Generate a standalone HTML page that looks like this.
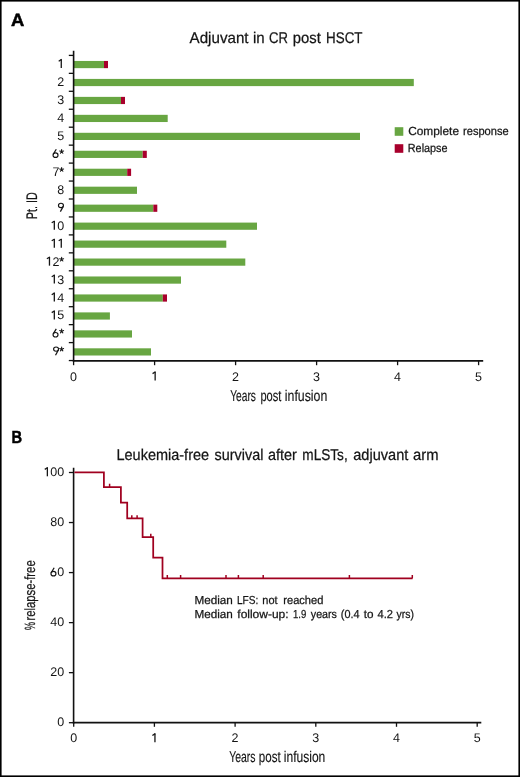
<!DOCTYPE html>
<html><head><meta charset="utf-8"><style>
html,body{margin:0;padding:0;background:#fff;}
svg{display:block;will-change:transform;text-rendering:geometricPrecision;font-family:"Liberation Sans", sans-serif;}
</style></head><body>
<svg width="520" height="777" viewBox="0 0 520 777">
<rect x="0" y="0" width="520" height="777" fill="#fff"/>
<rect x="0.8" y="0.8" width="518.4" height="775.4" fill="none" stroke="#000" stroke-width="1.6"/>
<text x="10.9" y="25.7" font-size="17.8" font-weight="bold" textLength="13.3" lengthAdjust="spacingAndGlyphs" stroke="#000" stroke-width="0.5" fill="#000">A</text>
<text x="11.6" y="442.7" font-size="17.5" font-weight="bold" textLength="10.6" lengthAdjust="spacingAndGlyphs" stroke="#000" stroke-width="0.5" fill="#000">B</text>
<text x="189.60" y="42.60" font-size="15.5" textLength="58.93" lengthAdjust="spacingAndGlyphs" fill="#151515" stroke="#151515" stroke-width="0.25">Adjuvant</text>
<text x="252.90" y="42.60" font-size="15.5" textLength="11.72" lengthAdjust="spacingAndGlyphs" fill="#151515" stroke="#151515" stroke-width="0.25">in</text>
<text x="269.00" y="42.60" font-size="15.5" textLength="18.91" lengthAdjust="spacingAndGlyphs" fill="#151515" stroke="#151515" stroke-width="0.25">CR</text>
<text x="292.80" y="42.60" font-size="15.5" textLength="27.96" lengthAdjust="spacingAndGlyphs" fill="#151515" stroke="#151515" stroke-width="0.25">post</text>
<text x="326.10" y="42.60" font-size="15.5" textLength="36.44" lengthAdjust="spacingAndGlyphs" fill="#151515" stroke="#151515" stroke-width="0.25">HSCT</text>
<text x="116.50" y="459.60" font-size="15.6" textLength="92.58" lengthAdjust="spacingAndGlyphs" fill="#151515" stroke="#151515" stroke-width="0.25">Leukemia-free</text>
<text x="214.60" y="459.60" font-size="15.6" textLength="48.78" lengthAdjust="spacingAndGlyphs" fill="#151515" stroke="#151515" stroke-width="0.25">survival</text>
<text x="268.00" y="459.60" font-size="15.6" textLength="28.85" lengthAdjust="spacingAndGlyphs" fill="#151515" stroke="#151515" stroke-width="0.25">after</text>
<text x="302.30" y="459.60" font-size="15.6" textLength="45.41" lengthAdjust="spacingAndGlyphs" fill="#151515" stroke="#151515" stroke-width="0.25">mLSTs,</text>
<text x="353.20" y="459.60" font-size="15.6" textLength="55.12" lengthAdjust="spacingAndGlyphs" fill="#151515" stroke="#151515" stroke-width="0.25">adjuvant</text>
<text x="413.05" y="459.60" font-size="15.6" textLength="25.49" lengthAdjust="spacingAndGlyphs" fill="#151515" stroke="#151515" stroke-width="0.25">arm</text>
<text x="408.20" y="135.30" font-size="11.8" textLength="50.84" lengthAdjust="spacingAndGlyphs" fill="#151515" stroke="#151515" stroke-width="0.25">Complete</text>
<text x="463.00" y="135.30" font-size="11.8" textLength="45.70" lengthAdjust="spacingAndGlyphs" fill="#151515" stroke="#151515" stroke-width="0.25">response</text>
<text x="407.78" y="151.80" font-size="11.8" textLength="39.80" lengthAdjust="spacingAndGlyphs" fill="#151515" stroke="#151515" stroke-width="0.25">Relapse</text>
<text x="194.40" y="604.30" font-size="11.6" textLength="38.46" lengthAdjust="spacingAndGlyphs" fill="#151515" stroke="#151515" stroke-width="0.25">Median</text>
<text x="237.00" y="604.30" font-size="11.6" textLength="21.31" lengthAdjust="spacingAndGlyphs" fill="#151515" stroke="#151515" stroke-width="0.25">LFS:</text>
<text x="262.30" y="604.30" font-size="11.6" textLength="15.24" lengthAdjust="spacingAndGlyphs" fill="#151515" stroke="#151515" stroke-width="0.25">not</text>
<text x="283.30" y="604.30" font-size="11.6" textLength="40.09" lengthAdjust="spacingAndGlyphs" fill="#151515" stroke="#151515" stroke-width="0.25">reached</text>
<text x="194.40" y="618.20" font-size="11.6" textLength="38.46" lengthAdjust="spacingAndGlyphs" fill="#151515" stroke="#151515" stroke-width="0.25">Median</text>
<text x="237.30" y="618.20" font-size="11.6" textLength="51.32" lengthAdjust="spacingAndGlyphs" fill="#151515" stroke="#151515" stroke-width="0.25">follow-up:</text>
<text x="293.00" y="618.20" font-size="11.6" textLength="13.29" lengthAdjust="spacingAndGlyphs" fill="#151515" stroke="#151515" stroke-width="0.25">1.9</text>
<text x="310.80" y="618.20" font-size="11.6" textLength="26.16" lengthAdjust="spacingAndGlyphs" fill="#151515" stroke="#151515" stroke-width="0.25">years</text>
<text x="340.80" y="618.20" font-size="11.6" textLength="18.70" lengthAdjust="spacingAndGlyphs" fill="#151515" stroke="#151515" stroke-width="0.25">(0.4</text>
<text x="363.80" y="618.20" font-size="11.6" textLength="9.75" lengthAdjust="spacingAndGlyphs" fill="#151515" stroke="#151515" stroke-width="0.25">to</text>
<text x="377.50" y="618.20" font-size="11.6" textLength="15.52" lengthAdjust="spacingAndGlyphs" fill="#151515" stroke="#151515" stroke-width="0.25">4.2</text>
<text x="396.50" y="618.20" font-size="11.6" textLength="17.43" lengthAdjust="spacingAndGlyphs" fill="#151515" stroke="#151515" stroke-width="0.25">yrs)</text>
<text x="230.20" y="400.90" font-size="15.5" textLength="25.74" lengthAdjust="spacingAndGlyphs" fill="#151515" stroke="#151515" stroke-width="0.15">Years</text>
<text x="260.40" y="400.90" font-size="15.5" textLength="20.97" lengthAdjust="spacingAndGlyphs" fill="#151515" stroke="#151515" stroke-width="0.15">post</text>
<text x="284.80" y="400.90" font-size="15.5" textLength="42.55" lengthAdjust="spacingAndGlyphs" fill="#151515" stroke="#151515" stroke-width="0.15">infusion</text>
<text x="229.20" y="762.40" font-size="15.5" textLength="26.37" lengthAdjust="spacingAndGlyphs" fill="#151515" stroke="#151515" stroke-width="0.15">Years</text>
<text x="258.80" y="762.40" font-size="15.5" textLength="21.88" lengthAdjust="spacingAndGlyphs" fill="#151515" stroke="#151515" stroke-width="0.15">post</text>
<text x="283.80" y="762.40" font-size="15.5" textLength="41.53" lengthAdjust="spacingAndGlyphs" fill="#151515" stroke="#151515" stroke-width="0.15">infusion</text>
<text transform="translate(36.90 219.14) rotate(-90)" x="0" y="0" font-size="15.3" textLength="26.90" lengthAdjust="spacingAndGlyphs" fill="#151515" stroke="#151515" stroke-width="0.25">Pt. ID</text>
<text transform="translate(35.10 630.02) rotate(-90)" x="0" y="0" font-size="14.8" textLength="8.02" lengthAdjust="spacingAndGlyphs" fill="#151515" stroke="#151515" stroke-width="0.25">%</text>
<text transform="translate(35.10 620.60) rotate(-90)" x="0" y="0" font-size="14.8" textLength="60.30" lengthAdjust="spacingAndGlyphs" fill="#151515" stroke="#151515" stroke-width="0.25">relapse-free</text>
<rect x="73.6" y="60.95" width="30.40" height="7.2" fill="#68a642"/>
<rect x="104.0" y="60.95" width="4.00" height="7.2" fill="#a8002c"/>
<path d="M61.27,68.10 V59.30" stroke="#151515" stroke-width="1.30" fill="none"/>
<path d="M61.65,59.39 L58.69,61.20" stroke="#151515" stroke-width="1.25" fill="none"/>
<rect x="73.6" y="78.91" width="340.20" height="7.2" fill="#68a642"/>
<text x="57.25" y="86.01" font-size="12.5" fill="#151515">2</text>
<rect x="73.6" y="96.87" width="47.40" height="7.2" fill="#68a642"/>
<rect x="121.0" y="96.87" width="4.00" height="7.2" fill="#a8002c"/>
<text x="57.25" y="103.97" font-size="12.5" fill="#151515">3</text>
<rect x="73.6" y="114.83" width="94.10" height="7.2" fill="#68a642"/>
<text x="57.25" y="121.93" font-size="12.5" fill="#151515">4</text>
<rect x="73.6" y="132.79" width="286.40" height="7.2" fill="#68a642"/>
<text x="57.25" y="139.89" font-size="12.5" fill="#151515">5</text>
<rect x="73.6" y="150.75" width="69.10" height="7.2" fill="#68a642"/>
<rect x="142.7" y="150.75" width="4.10" height="7.2" fill="#a8002c"/>
<ellipse cx="55.53" cy="155.16" rx="2.48" ry="2.25" stroke="#151515" stroke-width="1.15" fill="none"/>
<path d="M53.26,154.22 L56.26,149.22" stroke="#151515" stroke-width="1.25" fill="none"/>
<path d="M61.65,151.60 L61.65,149.54 M61.65,151.60 L63.61,150.96 M61.65,151.60 L62.86,153.27 M61.65,151.60 L60.44,153.27 M61.65,151.60 L59.69,150.96 " stroke="#151515" stroke-width="1.06" stroke-linecap="round" fill="none"/>
<rect x="73.6" y="168.71" width="53.60" height="7.2" fill="#68a642"/>
<rect x="127.2" y="168.71" width="3.90" height="7.2" fill="#a8002c"/>
<text x="52.38" y="175.81" font-size="12.5" fill="#151515">7</text>
<path d="M61.65,169.56 L61.65,167.50 M61.65,169.56 L63.61,168.92 M61.65,169.56 L62.86,171.23 M61.65,169.56 L60.44,171.23 M61.65,169.56 L59.69,168.92 " stroke="#151515" stroke-width="1.06" stroke-linecap="round" fill="none"/>
<rect x="73.6" y="186.67" width="63.40" height="7.2" fill="#68a642"/>
<text x="57.25" y="193.77" font-size="12.5" fill="#151515">8</text>
<rect x="73.6" y="204.63" width="79.70" height="7.2" fill="#68a642"/>
<rect x="153.3" y="204.63" width="4.00" height="7.2" fill="#a8002c"/>
<ellipse cx="60.95" cy="205.42" rx="2.48" ry="2.15" stroke="#151515" stroke-width="1.15" fill="none"/>
<path d="M63.22,206.35 L60.37,211.58" stroke="#151515" stroke-width="1.25" fill="none"/>
<rect x="73.6" y="222.59" width="183.40" height="7.2" fill="#68a642"/>
<path d="M54.32,229.74 V220.94" stroke="#151515" stroke-width="1.30" fill="none"/>
<path d="M54.70,221.03 L51.73,222.84" stroke="#151515" stroke-width="1.25" fill="none"/>
<text x="57.25" y="229.69" font-size="12.5" fill="#151515">0</text>
<rect x="73.6" y="240.55" width="152.70" height="7.2" fill="#68a642"/>
<path d="M54.32,247.70 V238.90" stroke="#151515" stroke-width="1.30" fill="none"/>
<path d="M54.70,238.99 L51.73,240.80" stroke="#151515" stroke-width="1.25" fill="none"/>
<path d="M61.27,247.70 V238.90" stroke="#151515" stroke-width="1.30" fill="none"/>
<path d="M61.65,238.99 L58.69,240.80" stroke="#151515" stroke-width="1.25" fill="none"/>
<rect x="73.6" y="258.51" width="171.70" height="7.2" fill="#68a642"/>
<path d="M49.46,265.66 V256.86" stroke="#151515" stroke-width="1.30" fill="none"/>
<path d="M49.83,256.95 L46.87,258.76" stroke="#151515" stroke-width="1.25" fill="none"/>
<text x="52.38" y="265.61" font-size="12.5" fill="#151515">2</text>
<path d="M61.65,259.36 L61.65,257.30 M61.65,259.36 L63.61,258.72 M61.65,259.36 L62.86,261.03 M61.65,259.36 L60.44,261.03 M61.65,259.36 L59.69,258.72 " stroke="#151515" stroke-width="1.06" stroke-linecap="round" fill="none"/>
<rect x="73.6" y="276.47" width="107.40" height="7.2" fill="#68a642"/>
<path d="M54.32,283.62 V274.82" stroke="#151515" stroke-width="1.30" fill="none"/>
<path d="M54.70,274.91 L51.73,276.72" stroke="#151515" stroke-width="1.25" fill="none"/>
<text x="57.25" y="283.57" font-size="12.5" fill="#151515">3</text>
<rect x="73.6" y="294.43" width="89.20" height="7.2" fill="#68a642"/>
<rect x="162.8" y="294.43" width="4.20" height="7.2" fill="#a8002c"/>
<path d="M54.32,301.58 V292.78" stroke="#151515" stroke-width="1.30" fill="none"/>
<path d="M54.70,292.87 L51.73,294.68" stroke="#151515" stroke-width="1.25" fill="none"/>
<text x="57.25" y="301.53" font-size="12.5" fill="#151515">4</text>
<rect x="73.6" y="312.39" width="36.30" height="7.2" fill="#68a642"/>
<path d="M54.32,319.54 V310.74" stroke="#151515" stroke-width="1.30" fill="none"/>
<path d="M54.70,310.83 L51.73,312.64" stroke="#151515" stroke-width="1.25" fill="none"/>
<text x="57.25" y="319.49" font-size="12.5" fill="#151515">5</text>
<rect x="73.6" y="330.35" width="58.40" height="7.2" fill="#68a642"/>
<ellipse cx="55.53" cy="334.76" rx="2.48" ry="2.25" stroke="#151515" stroke-width="1.15" fill="none"/>
<path d="M53.26,333.83 L56.26,328.83" stroke="#151515" stroke-width="1.25" fill="none"/>
<path d="M61.65,331.20 L61.65,329.14 M61.65,331.20 L63.61,330.56 M61.65,331.20 L62.86,332.87 M61.65,331.20 L60.44,332.87 M61.65,331.20 L59.69,330.56 " stroke="#151515" stroke-width="1.06" stroke-linecap="round" fill="none"/>
<rect x="73.6" y="348.31" width="77.40" height="7.2" fill="#68a642"/>
<ellipse cx="56.08" cy="349.10" rx="2.48" ry="2.15" stroke="#151515" stroke-width="1.15" fill="none"/>
<path d="M58.36,350.04 L55.51,355.26" stroke="#151515" stroke-width="1.25" fill="none"/>
<path d="M61.65,349.16 L61.65,347.10 M61.65,349.16 L63.61,348.52 M61.65,349.16 L62.86,350.83 M61.65,349.16 L60.44,350.83 M61.65,349.16 L59.69,348.52 " stroke="#151515" stroke-width="1.06" stroke-linecap="round" fill="none"/>
<line x1="73.6" y1="50.8" x2="73.6" y2="361.6" stroke="#111" stroke-width="1.6"/>
<line x1="68.8" y1="55.40" x2="73.6" y2="55.40" stroke="#111" stroke-width="1.3"/>
<line x1="68.8" y1="73.35" x2="73.6" y2="73.35" stroke="#111" stroke-width="1.3"/>
<line x1="68.8" y1="91.30" x2="73.6" y2="91.30" stroke="#111" stroke-width="1.3"/>
<line x1="68.8" y1="109.25" x2="73.6" y2="109.25" stroke="#111" stroke-width="1.3"/>
<line x1="68.8" y1="127.20" x2="73.6" y2="127.20" stroke="#111" stroke-width="1.3"/>
<line x1="68.8" y1="145.15" x2="73.6" y2="145.15" stroke="#111" stroke-width="1.3"/>
<line x1="68.8" y1="163.10" x2="73.6" y2="163.10" stroke="#111" stroke-width="1.3"/>
<line x1="68.8" y1="181.05" x2="73.6" y2="181.05" stroke="#111" stroke-width="1.3"/>
<line x1="68.8" y1="199.00" x2="73.6" y2="199.00" stroke="#111" stroke-width="1.3"/>
<line x1="68.8" y1="216.95" x2="73.6" y2="216.95" stroke="#111" stroke-width="1.3"/>
<line x1="68.8" y1="234.90" x2="73.6" y2="234.90" stroke="#111" stroke-width="1.3"/>
<line x1="68.8" y1="252.85" x2="73.6" y2="252.85" stroke="#111" stroke-width="1.3"/>
<line x1="68.8" y1="270.80" x2="73.6" y2="270.80" stroke="#111" stroke-width="1.3"/>
<line x1="68.8" y1="288.75" x2="73.6" y2="288.75" stroke="#111" stroke-width="1.3"/>
<line x1="68.8" y1="306.70" x2="73.6" y2="306.70" stroke="#111" stroke-width="1.3"/>
<line x1="68.8" y1="324.65" x2="73.6" y2="324.65" stroke="#111" stroke-width="1.3"/>
<line x1="68.8" y1="342.60" x2="73.6" y2="342.60" stroke="#111" stroke-width="1.3"/>
<line x1="68.8" y1="360.55" x2="73.6" y2="360.55" stroke="#111" stroke-width="1.3"/>
<line x1="72.8" y1="360.8" x2="483.2" y2="360.8" stroke="#111" stroke-width="1.7"/>
<line x1="73.60" y1="360.8" x2="73.60" y2="365.2" stroke="#111" stroke-width="1.3"/>
<text x="70.12" y="380.50" font-size="12.5" fill="#151515">0</text>
<line x1="154.60" y1="360.8" x2="154.60" y2="365.2" stroke="#111" stroke-width="1.3"/>
<path d="M155.15,380.55 V371.75" stroke="#151515" stroke-width="1.30" fill="none"/>
<path d="M155.52,371.84 L152.56,373.65" stroke="#151515" stroke-width="1.25" fill="none"/>
<line x1="235.60" y1="360.8" x2="235.60" y2="365.2" stroke="#111" stroke-width="1.3"/>
<text x="232.12" y="380.50" font-size="12.5" fill="#151515">2</text>
<line x1="316.60" y1="360.8" x2="316.60" y2="365.2" stroke="#111" stroke-width="1.3"/>
<text x="313.12" y="380.50" font-size="12.5" fill="#151515">3</text>
<line x1="397.60" y1="360.8" x2="397.60" y2="365.2" stroke="#111" stroke-width="1.3"/>
<text x="394.12" y="380.50" font-size="12.5" fill="#151515">4</text>
<line x1="478.60" y1="360.8" x2="478.60" y2="365.2" stroke="#111" stroke-width="1.3"/>
<text x="475.12" y="380.50" font-size="12.5" fill="#151515">5</text>
<rect x="394.7" y="127.2" width="8.6" height="8.6" fill="#68a642"/>
<rect x="394.7" y="144.2" width="8.6" height="8.6" fill="#a8002c"/>
<line x1="73.6" y1="467.8" x2="73.6" y2="723.6" stroke="#111" stroke-width="1.6"/>
<line x1="68.9" y1="722.70" x2="73.6" y2="722.70" stroke="#111" stroke-width="1.3"/>
<text x="57.25" y="726.45" font-size="12.5" fill="#151515">0</text>
<line x1="68.9" y1="672.66" x2="73.6" y2="672.66" stroke="#111" stroke-width="1.3"/>
<text x="50.30" y="676.41" font-size="12.5" fill="#151515">2</text>
<text x="57.25" y="676.41" font-size="12.5" fill="#151515">0</text>
<line x1="68.9" y1="622.62" x2="73.6" y2="622.62" stroke="#111" stroke-width="1.3"/>
<text x="50.30" y="626.37" font-size="12.5" fill="#151515">4</text>
<text x="57.25" y="626.37" font-size="12.5" fill="#151515">0</text>
<line x1="68.9" y1="572.58" x2="73.6" y2="572.58" stroke="#111" stroke-width="1.3"/>
<ellipse cx="53.45" cy="573.64" rx="2.48" ry="2.25" stroke="#151515" stroke-width="1.15" fill="none"/>
<path d="M51.17,572.71 L54.17,567.71" stroke="#151515" stroke-width="1.25" fill="none"/>
<text x="57.25" y="576.33" font-size="12.5" fill="#151515">0</text>
<line x1="68.9" y1="522.54" x2="73.6" y2="522.54" stroke="#111" stroke-width="1.3"/>
<text x="50.30" y="526.29" font-size="12.5" fill="#151515">8</text>
<text x="57.25" y="526.29" font-size="12.5" fill="#151515">0</text>
<line x1="68.9" y1="472.50" x2="73.6" y2="472.50" stroke="#111" stroke-width="1.3"/>
<path d="M47.37,476.30 V467.50" stroke="#151515" stroke-width="1.30" fill="none"/>
<path d="M47.75,467.59 L44.78,469.40" stroke="#151515" stroke-width="1.25" fill="none"/>
<text x="50.30" y="476.25" font-size="12.5" fill="#151515">0</text>
<text x="57.25" y="476.25" font-size="12.5" fill="#151515">0</text>
<line x1="72.8" y1="722.7" x2="481.3" y2="722.7" stroke="#111" stroke-width="1.7"/>
<line x1="73.70" y1="722.7" x2="73.70" y2="726.8" stroke="#111" stroke-width="1.3"/>
<text x="70.22" y="742.30" font-size="12.5" fill="#151515">0</text>
<line x1="154.40" y1="722.7" x2="154.40" y2="726.8" stroke="#111" stroke-width="1.3"/>
<path d="M154.95,742.35 V733.55" stroke="#151515" stroke-width="1.30" fill="none"/>
<path d="M155.32,733.64 L152.36,735.45" stroke="#151515" stroke-width="1.25" fill="none"/>
<line x1="235.10" y1="722.7" x2="235.10" y2="726.8" stroke="#111" stroke-width="1.3"/>
<text x="231.62" y="742.30" font-size="12.5" fill="#151515">2</text>
<line x1="315.80" y1="722.7" x2="315.80" y2="726.8" stroke="#111" stroke-width="1.3"/>
<text x="312.32" y="742.30" font-size="12.5" fill="#151515">3</text>
<line x1="396.50" y1="722.7" x2="396.50" y2="726.8" stroke="#111" stroke-width="1.3"/>
<text x="393.02" y="742.30" font-size="12.5" fill="#151515">4</text>
<line x1="477.20" y1="722.7" x2="477.20" y2="726.8" stroke="#111" stroke-width="1.3"/>
<text x="473.72" y="742.30" font-size="12.5" fill="#151515">5</text>
<path d="M74.40,472.30 L103.90,472.30 L103.90,487.03 L120.90,487.03 L120.90,502.74 L127.20,502.74 L127.20,518.45 L142.60,518.45 L142.60,537.02 L153.20,537.02 L153.20,557.65 L162.50,557.65 L162.50,578.28 L412.60,578.28" fill="none" stroke="#a0001f" stroke-width="1.75" stroke-linejoin="miter"/>
<line x1="109.6" y1="487.03" x2="109.6" y2="483.73" stroke="#a0001f" stroke-width="1.5"/>
<line x1="131.8" y1="518.45" x2="131.8" y2="515.15" stroke="#a0001f" stroke-width="1.5"/>
<line x1="137.1" y1="518.45" x2="137.1" y2="515.15" stroke="#a0001f" stroke-width="1.5"/>
<line x1="150.8" y1="537.02" x2="150.8" y2="533.72" stroke="#a0001f" stroke-width="1.5"/>
<line x1="167.3" y1="578.28" x2="167.3" y2="574.98" stroke="#a0001f" stroke-width="1.5"/>
<line x1="180.6" y1="578.28" x2="180.6" y2="574.98" stroke="#a0001f" stroke-width="1.5"/>
<line x1="226.0" y1="578.28" x2="226.0" y2="574.98" stroke="#a0001f" stroke-width="1.5"/>
<line x1="238.4" y1="578.28" x2="238.4" y2="574.98" stroke="#a0001f" stroke-width="1.5"/>
<line x1="263.2" y1="578.28" x2="263.2" y2="574.98" stroke="#a0001f" stroke-width="1.5"/>
<line x1="349.4" y1="578.28" x2="349.4" y2="574.98" stroke="#a0001f" stroke-width="1.5"/>
<line x1="412.3" y1="578.28" x2="412.3" y2="574.98" stroke="#a0001f" stroke-width="1.5"/>
</svg>
</body></html>
